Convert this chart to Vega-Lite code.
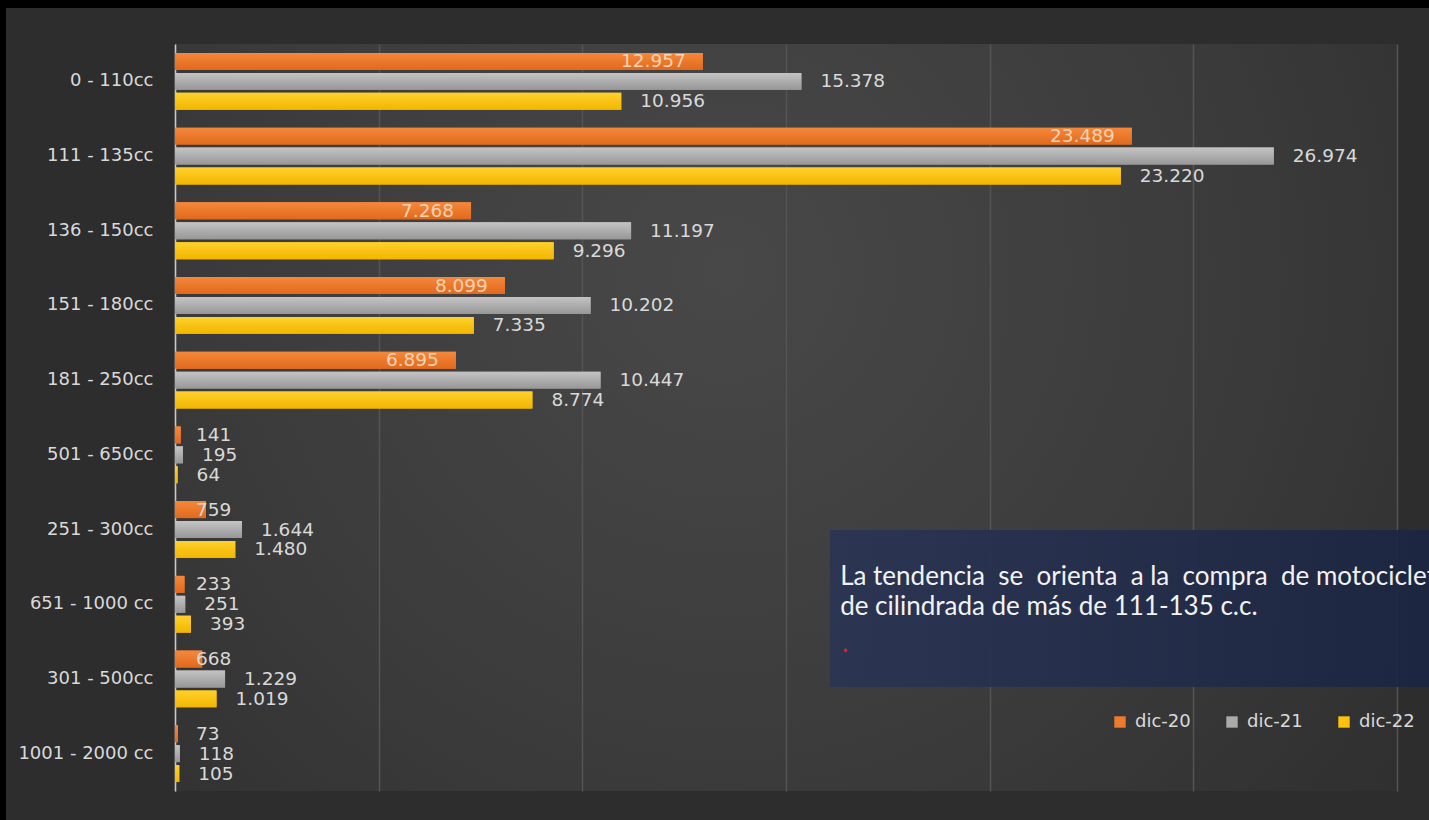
{
  "$schema": "https://vega.github.io/schema/vega-lite/v6.json",
  "width": 1222,
  "height": 747,
  "autosize": {"type": "none"},
  "padding": {"left": 175, "top": 44, "right": 32, "bottom": 29},
  "background": "#2d2d2d",
  "config": {
    "locale": {"number": {"decimal": ",", "thousands": ".", "grouping": [3], "currency": ["", " €"]}},
    "view": {
      "stroke": null,
      "fill": {"gradient": "radial", "x1": 0.45, "y1": 0.38, "r1": 0, "x2": 0.45, "y2": 0.38, "r2": 0.75,
        "stops": [{"offset": 0, "color": "#484848"}, {"offset": 0.55, "color": "#3b3b3b"}, {"offset": 1, "color": "#2d2d2d"}]}
    },
    "text": {"font": "DejaVu Sans"}
  },
  "datasets": {
    "motos": [
      {"cilindrada": "0 - 110cc", "serie": "dic-20", "valor": 12957},
      {"cilindrada": "0 - 110cc", "serie": "dic-21", "valor": 15378},
      {"cilindrada": "0 - 110cc", "serie": "dic-22", "valor": 10956},
      {"cilindrada": "111 - 135cc", "serie": "dic-20", "valor": 23489},
      {"cilindrada": "111 - 135cc", "serie": "dic-21", "valor": 26974},
      {"cilindrada": "111 - 135cc", "serie": "dic-22", "valor": 23220},
      {"cilindrada": "136 - 150cc", "serie": "dic-20", "valor": 7268},
      {"cilindrada": "136 - 150cc", "serie": "dic-21", "valor": 11197},
      {"cilindrada": "136 - 150cc", "serie": "dic-22", "valor": 9296},
      {"cilindrada": "151 - 180cc", "serie": "dic-20", "valor": 8099},
      {"cilindrada": "151 - 180cc", "serie": "dic-21", "valor": 10202},
      {"cilindrada": "151 - 180cc", "serie": "dic-22", "valor": 7335},
      {"cilindrada": "181 - 250cc", "serie": "dic-20", "valor": 6895},
      {"cilindrada": "181 - 250cc", "serie": "dic-21", "valor": 10447},
      {"cilindrada": "181 - 250cc", "serie": "dic-22", "valor": 8774},
      {"cilindrada": "501 - 650cc", "serie": "dic-20", "valor": 141},
      {"cilindrada": "501 - 650cc", "serie": "dic-21", "valor": 195},
      {"cilindrada": "501 - 650cc", "serie": "dic-22", "valor": 64},
      {"cilindrada": "251 - 300cc", "serie": "dic-20", "valor": 759},
      {"cilindrada": "251 - 300cc", "serie": "dic-21", "valor": 1644},
      {"cilindrada": "251 - 300cc", "serie": "dic-22", "valor": 1480},
      {"cilindrada": "651 - 1000 cc", "serie": "dic-20", "valor": 233},
      {"cilindrada": "651 - 1000 cc", "serie": "dic-21", "valor": 251},
      {"cilindrada": "651 - 1000 cc", "serie": "dic-22", "valor": 393},
      {"cilindrada": "301 - 500cc", "serie": "dic-20", "valor": 668},
      {"cilindrada": "301 - 500cc", "serie": "dic-21", "valor": 1229},
      {"cilindrada": "301 - 500cc", "serie": "dic-22", "valor": 1019},
      {"cilindrada": "1001 - 2000 cc", "serie": "dic-20", "valor": 73},
      {"cilindrada": "1001 - 2000 cc", "serie": "dic-21", "valor": 118},
      {"cilindrada": "1001 - 2000 cc", "serie": "dic-22", "valor": 105}
    ]
  },
  "layer": [
    {
      "data": {"name": "motos"},
      "encoding": {
        "y": {"field": "cilindrada", "type": "nominal", "sort": null,
          "scale": {"paddingInner": 0.2, "paddingOuter": 0.1},
          "axis": {"title": null, "ticks": false, "labelPadding": 22, "labelFont": "DejaVu Sans", "labelFontSize": 18,
            "labelColor": "#d9d9d9", "domainColor": "#c9c9c9", "domainWidth": 1.5, "grid": false}},
        "yOffset": {"field": "serie", "type": "nominal", "sort": ["dic-20", "dic-21", "dic-22"],
          "scale": {"domain": ["dic-20", "dic-21", "dic-22"], "paddingInner": 0.15, "paddingOuter": 0.075}},
        "x": {"field": "valor", "type": "quantitative", "scale": {"domain": [0, 30000], "nice": false},
          "axis": {"title": null, "labels": false, "ticks": false, "domain": false, "grid": true,
            "gridColor": "#545454", "gridWidth": 1.5, "values": [0, 5000, 10000, 15000, 20000, 25000, 30000]}}
      },
      "layer": [
        {
          "mark": {"type": "bar"},
          "encoding": {
            "color": {"field": "serie", "type": "nominal",
              "scale": {"domain": ["dic-20", "dic-21", "dic-22"], "range": ["#ee7a2e", "#aaaaaa", "#ffc20e"]},
              "legend": {"title": null, "orient": "none", "legendX": 936, "legendY": 669, "direction": "horizontal",
                "symbolType": "square", "symbolSize": 130, "symbolStrokeWidth": 0, "labelFont": "DejaVu Sans",
                "labelFontSize": 18, "labelColor": "#d9d9d9", "columnPadding": 32, "labelOffset": 6, "padding": 0}}
          }
        },
        {
          "transform": [{"filter": "datum.serie === 'dic-20'"}],
          "mark": {"type": "bar", "fill": {"gradient": "linear", "x1": 0, "y1": 0, "x2": 0, "y2": 1, "stops": [{"offset": 0, "color": "#f5883b"}, {"offset": 1, "color": "#e1691c"}]}}
        },
        {
          "transform": [{"filter": "datum.serie === 'dic-21'"}],
          "mark": {"type": "bar", "fill": {"gradient": "linear", "x1": 0, "y1": 0, "x2": 0, "y2": 1, "stops": [{"offset": 0, "color": "#c4c4c4"}, {"offset": 1, "color": "#979797"}]}}
        },
        {
          "transform": [{"filter": "datum.serie === 'dic-22'"}],
          "mark": {"type": "bar", "fill": {"gradient": "linear", "x1": 0, "y1": 0, "x2": 0, "y2": 1, "stops": [{"offset": 0, "color": "#ffd12c"}, {"offset": 1, "color": "#f2b600"}]}}
        },
        {
          "transform": [{"filter": "datum.serie !== 'dic-20'"}],
          "mark": {"type": "text", "align": "left", "baseline": "middle", "dx": 19, "fontSize": 18.5, "color": "#d9d9d9"},
          "encoding": {
            "text": {"field": "valor", "type": "quantitative", "format": ",d"}
          }
        },
        {
          "transform": [{"filter": "datum.serie === 'dic-20' && datum.valor >= 5000"}],
          "mark": {"type": "text", "align": "right", "baseline": "middle", "dx": -17, "fontSize": 18.5, "color": "#f9d2b3"},
          "encoding": {
            "text": {"field": "valor", "type": "quantitative", "format": ",d"}
          }
        },
        {
          "transform": [{"filter": "datum.serie === 'dic-20' && datum.valor < 5000"}],
          "mark": {"type": "text", "align": "left", "baseline": "middle", "dx": 21, "fontSize": 18.5, "color": "#d9d9d9"},
          "encoding": {
            "x": {"datum": 0, "type": "quantitative", "scale": {"domain": [0, 30000], "nice": false}},
            "text": {"field": "valor", "type": "quantitative", "format": ",d"}
          }
        }
      ]
    },
    {
      "data": {"values": [{"nota": "tendencia"}]},
      "layer": [
        {
          "mark": {"type": "rect", "fill": "#000000"},
          "encoding": {
            "x": {"datum": -4600, "type": "quantitative", "scale": {"domain": [0, 30000], "nice": false}},
            "x2": {"datum": 32000},
            "y": {"datum": -0.7, "type": "quantitative", "scale": {"domain": [0, 10], "reverse": true, "nice": false, "zero": false}, "axis": null},
            "y2": {"datum": -0.482}
          }
        },
        {
          "mark": {"type": "rect", "fill": "#000000"},
          "encoding": {
            "x": {"datum": -4600, "type": "quantitative", "scale": {"domain": [0, 30000], "nice": false}},
            "x2": {"datum": -4149},
            "y": {"datum": -0.7, "type": "quantitative", "scale": {"domain": [0, 10], "reverse": true, "nice": false, "zero": false}, "axis": null},
            "y2": {"datum": 10.6}
          }
        },
        {
          "mark": {"type": "rect", "opacity": 0.93,
            "fill": {"gradient": "linear", "x1": 0, "y1": 0, "x2": 1, "y2": 0, "stops": [{"offset": 0, "color": "#2a3554"}, {"offset": 1, "color": "#1a2440"}]}},
          "encoding": {
            "x": {"datum": 16080, "type": "quantitative", "scale": {"domain": [0, 30000], "nice": false}},
            "x2": {"datum": 32000},
            "y": {"datum": 6.506, "type": "quantitative", "scale": {"domain": [0, 10], "reverse": true, "nice": false, "zero": false}, "axis": null},
            "y2": {"datum": 8.608}
          }
        },
        {
          "mark": {"type": "text", "align": "left", "baseline": "alphabetic", "font": "Lato", "fontSize": 26, "lineHeight": 30, "color": "#f2f2f2",
            "text": ["La tendencia \u00a0se \u00a0orienta \u00a0a la \u00a0compra \u00a0de motocicletas", "de cilindrada de más de 111-135 c.c."]},
          "encoding": {
            "x": {"datum": 16330, "type": "quantitative", "scale": {"domain": [0, 30000], "nice": false}},
            "y": {"datum": 7.242, "type": "quantitative", "scale": {"domain": [0, 10], "reverse": true, "nice": false, "zero": false}, "axis": null}
          }
        },
        {
          "mark": {"type": "text", "align": "left", "baseline": "alphabetic", "font": "Lato", "fontSize": 26, "color": "#e02020", "text": "."},
          "encoding": {
            "x": {"datum": 16374, "type": "quantitative", "scale": {"domain": [0, 30000], "nice": false}},
            "y": {"datum": 8.14, "type": "quantitative", "scale": {"domain": [0, 10], "reverse": true, "nice": false, "zero": false}, "axis": null}
          }
        }
      ]
    }
  ],
  "resolve": {"scale": {"y": "independent"}}
}
